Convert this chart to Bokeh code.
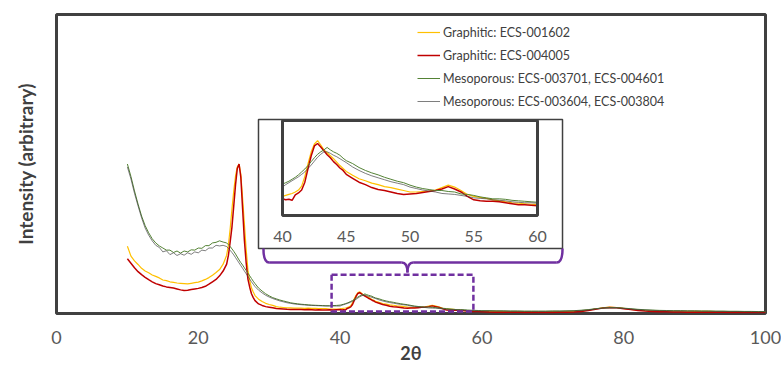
from bokeh.plotting import figure
from bokeh.models import Range1d, FixedTicker, Legend, LegendItem, BoxAnnotation
from bokeh.embed import file_html
from bokeh.resources import INLINE
from bokeh.core.properties import value
import numpy as np

# ---------------- data ----------------
two_theta = [
    10.0, 10.5, 11.0, 11.5, 12.0, 12.5, 13.0, 13.5, 14.0, 14.5, 15.0, 15.5, 16.0, 16.5,
    17.0, 17.5, 18.0, 18.5, 19.0, 19.5, 20.0, 20.5, 21.0, 21.5, 22.0, 22.5, 23.0, 23.5,
    24.0, 24.25, 24.5, 24.75, 25.0, 25.25, 25.5, 25.75, 26.0, 26.25, 26.5, 26.75, 27.0,
    27.25, 27.5, 27.75, 28.0,
    28.5, 29.0, 29.5, 30.0, 30.5, 31.0, 31.5, 32.0, 32.5, 33.0, 33.5, 34.0, 34.5, 35.0,
    35.5, 36.0, 36.5, 37.0, 37.5, 38.0, 38.5, 39.0, 39.5,
    40.0, 40.25, 40.5, 40.75, 41.0, 41.25, 41.5, 41.75, 42.0, 42.25, 42.5, 42.75, 43.0,
    43.25, 43.5, 43.75, 44.0, 44.25, 44.5, 44.75, 45.0,
    45.5, 46.0, 46.5, 47.0, 47.5, 48.0, 48.5, 49.0, 49.5, 50.0, 50.5, 51.0, 51.5, 52.0,
    52.5, 53.0, 53.5, 54.0, 54.5, 55.0, 55.5, 56.0, 56.5, 57.0, 57.5, 58.0, 58.5, 59.0,
    59.5, 60.0,
    61, 62, 63, 64, 65, 66, 67, 68, 69, 70, 71, 72, 73, 74, 75, 76, 77, 78, 79, 80,
    81, 82, 83, 84, 85, 86, 87, 88, 89, 90, 91, 92, 93, 94, 95, 96, 97, 98, 99, 100,
]

graphitic_001602 = [
    22.5, 19.2, 17.6, 16.4, 15.1, 14.2, 13.6, 12.9, 12.4, 11.9, 11.2, 11.0, 10.6, 10.4,
    10.2, 10.1, 10.0, 9.9, 10.1, 10.3, 10.5, 10.9, 11.4, 12.0, 12.8, 13.7, 14.7, 16.5,
    19.5, 23.0, 28.5, 35.0, 41.0, 46.0, 49.0, 50.0, 46.5, 38.5, 30.0, 21.5, 14.5,
    11.0, 8.6, 7.2, 6.0,
    4.8, 4.0, 3.4, 3.0, 2.7, 2.3, 2.1, 2.0, 1.9, 1.9, 1.8, 1.8, 1.8, 1.7,
    1.8, 1.7, 1.7, 1.6, 1.6, 1.6, 1.5, 1.5, 1.5,
    1.55, 1.65, 1.75, 1.85, 2.0, 2.2, 2.6, 3.6, 4.9, 6.1, 6.9, 7.25, 6.8,
    6.3, 6.0, 5.7, 5.4, 5.05, 4.7, 4.4, 4.1,
    3.7, 3.35, 3.15, 2.9, 2.75, 2.55, 2.45, 2.3, 2.15, 2.0, 2.0, 2.05, 2.1, 2.2,
    2.45, 2.7, 2.5, 2.15, 1.75, 1.55, 1.45, 1.35, 1.2, 1.1, 1.0, 0.9, 0.85, 0.8,
    0.75, 0.7,
    0.7, 0.7, 0.65, 0.65, 0.6, 0.6, 0.6, 0.55, 0.55, 0.6, 0.6, 0.65, 0.7, 0.85, 1.1, 1.5,
    1.9, 2.1, 2.0, 1.7,
    1.4, 1.2, 1.0, 0.9, 0.85, 0.8, 0.8, 0.75, 0.75, 0.7, 0.7, 0.7, 0.65, 0.65, 0.6, 0.6,
    0.6, 0.55, 0.55, 0.5,
]

graphitic_004005 = [
    18.3, 16.8, 15.3, 14.0, 13.0, 12.1, 11.3, 10.6, 10.0, 9.6, 9.2, 8.9, 8.7, 8.5,
    8.2, 7.9, 7.7, 7.8, 8.0, 8.2, 8.4, 8.7, 9.1, 9.8, 10.6, 11.4, 12.6, 14.2,
    16.5, 19.5, 24.0, 29.0, 36.0, 43.0, 48.5, 50.0, 45.5, 35.0, 24.5, 17.0, 11.5,
    8.8, 6.6, 5.3, 4.3,
    3.2, 2.7, 2.3, 2.1, 1.9, 1.7, 1.6, 1.5, 1.4, 1.35, 1.3, 1.3, 1.3, 1.25,
    1.3, 1.25, 1.2, 1.25, 1.2, 1.2, 1.25, 1.2, 1.25,
    1.3, 1.2, 1.25, 1.15, 1.7, 1.9, 2.2, 3.0, 4.4, 5.7, 6.7, 6.95, 6.6,
    6.2, 5.8, 5.5, 5.1, 4.8, 4.45, 4.2, 3.8,
    3.4, 3.0, 2.75, 2.45, 2.25, 2.15, 2.0, 1.85, 1.75, 1.8, 1.85, 1.95, 2.05, 2.15,
    2.3, 2.55, 2.3, 2.0, 1.55, 1.2, 1.1, 1.05, 1.05, 1.0, 0.9, 0.8, 0.7, 0.7,
    0.65, 0.6,
    0.5, 0.45, 0.45, 0.4, 0.4, 0.35, 0.35, 0.3, 0.35, 0.35, 0.4, 0.4, 0.5, 0.7, 1.0, 1.4,
    1.8, 2.0, 1.9, 1.6,
    1.3, 1.0, 0.8, 0.7, 0.6, 0.55, 0.5, 0.5, 0.45, 0.45, 0.4, 0.45, 0.4, 0.4, 0.35, 0.4,
    0.35, 0.35, 0.3, 0.3,
]

mesoporous_003701_004601 = [
    50.0, 45.8, 41.0, 36.6, 32.6, 29.4, 27.0, 25.0, 23.6, 22.6, 21.9, 21.2, 21.2, 20.4,
    20.9, 20.2, 20.9, 20.6, 21.3, 21.2, 21.9, 21.8, 22.7, 22.7, 23.6, 23.8, 24.3, 23.9,
    23.6, 23.0, 22.4, 21.6, 20.8, 19.9, 18.9, 17.9, 17.0, 16.2, 15.3, 14.4, 13.5,
    12.6, 11.7, 10.8, 10.0,
    8.5, 7.5, 6.6, 5.9, 5.3, 4.9, 4.5, 4.2, 3.9, 3.6, 3.4, 3.25, 3.1, 3.0,
    2.9, 2.8, 2.75, 2.7, 2.65, 2.6, 2.6, 2.65, 2.7,
    2.8, 2.95, 3.1, 3.3, 3.5, 3.75, 4.05, 4.35, 4.7, 5.1, 5.5, 5.85, 6.1,
    6.3, 6.55, 6.3, 6.1, 5.95, 5.75, 5.45, 5.2,
    4.9, 4.5, 4.2, 3.95, 3.75, 3.5, 3.3, 3.1, 2.95, 2.7, 2.5, 2.35, 2.25, 2.15,
    2.15, 2.05, 2.0, 1.8, 1.75, 1.65, 1.5, 1.4, 1.3, 1.3, 1.25, 1.15, 1.1, 1.05,
    1.0, 0.95,
    0.95, 0.9, 0.9, 0.85, 0.85, 0.8, 0.8, 0.8, 0.8, 0.85, 0.85, 0.9, 0.95, 1.1, 1.3, 1.6,
    1.85, 1.95, 1.95, 1.8,
    1.6, 1.4, 1.25, 1.15, 1.05, 1.0, 0.95, 0.95, 0.9, 0.9, 0.85, 0.85, 0.8, 0.8, 0.75, 0.75,
    0.7, 0.7, 0.65, 0.65,
]

mesoporous_003604_003804 = [
    49.0, 45.0, 40.2, 36.0, 32.0, 28.6, 26.2, 24.3, 22.8, 22.1, 20.6, 21.0, 19.7, 20.3,
    19.4, 20.0, 19.5, 20.3, 19.8, 20.6, 20.3, 21.2, 21.0, 21.9, 21.9, 22.8, 22.6, 22.8,
    22.4, 21.8, 21.1, 20.4, 19.6, 18.7, 17.8, 16.9, 16.0, 15.1, 14.2, 13.3, 12.4,
    11.5, 10.6, 9.8, 9.0,
    7.8, 6.9, 6.1, 5.5, 5.0, 4.6, 4.2, 3.9, 3.6, 3.4, 3.2, 3.05, 2.95, 2.85,
    2.75, 2.7, 2.65, 2.6, 2.55, 2.5, 2.5, 2.5, 2.5,
    2.5, 2.75, 2.95, 3.15, 3.35, 3.55, 3.8, 4.05, 4.4, 4.75, 5.15, 5.55, 5.85,
    6.1, 6.1, 5.95, 5.75, 5.6, 5.4, 5.2, 5.0,
    4.55, 4.2, 3.9, 3.65, 3.45, 3.25, 3.05, 2.9, 2.75, 2.5, 2.35, 2.2, 2.1, 2.0,
    1.85, 1.8, 1.75, 1.65, 1.55, 1.4, 1.35, 1.3, 1.2, 1.15, 1.1, 1.0, 0.95, 0.9,
    0.9, 0.85,
    0.85, 0.8, 0.8, 0.75, 0.75, 0.7, 0.7, 0.7, 0.7, 0.75, 0.75, 0.8, 0.85, 1.0, 1.2, 1.5,
    1.75, 1.85, 1.85, 1.7,
    1.5, 1.3, 1.15, 1.05, 0.95, 0.9, 0.85, 0.85, 0.8, 0.8, 0.75, 0.75, 0.7, 0.7, 0.65, 0.65,
    0.6, 0.6, 0.55, 0.55,
]

series_labels = [
    "Graphitic: ECS-001602",
    "Graphitic: ECS-004005",
    "Mesoporous: ECS-003701, ECS-004601",
    "Mesoporous: ECS-003604, ECS-003804",
]
series_values = [graphitic_001602, graphitic_004005,
                 mesoporous_003701_004601, mesoporous_003604_003804]
series_colors = ["#FFC000", "#C00000", "#548235", "#404040"]
series_widths = [1.2, 1.5, 1.0, 0.8]
series_alpha = [1.0, 1.0, 1.0, 0.85]

x_ticks = [0, 20, 40, 60, 80, 100]
inset_ticks = [40, 45, 50, 55, 60]

for s in series_values:
    assert len(s) == len(two_theta), (len(s), len(two_theta))

# ---------------- geometry of the inset (in main data units) ----------------
inset_x = (40, 60)
inset_y = (-0.4, 9.3)
inset_place = dict(left=31.88, right=67.84, bottom=32.78, top=64.55)
outer_box = dict(left=28.49, right=71.37, bottom=21.74, top=64.88)
zoom_box = dict(left=38.8, right=58.8, bottom=0.7, top=13.0)

sx = (inset_x[1] - inset_x[0]) / (inset_place["right"] - inset_place["left"])
ix0 = inset_x[0] - inset_place["left"] * sx
ix1 = ix0 + 100 * sx
sy = (inset_y[1] - inset_y[0]) / (inset_place["top"] - inset_place["bottom"])
iy0 = inset_y[0] - inset_place["bottom"] * sy
iy1 = iy0 + 100 * sy

FONT = "Lato"
PURPLE = "#7030A0"
DARK = "#404040"

p = figure(width=781, height=369, x_range=Range1d(0, 100), y_range=Range1d(0, 100),
           output_backend="svg", toolbar_location=None,
           min_border_left=56, min_border_right=16, min_border_top=14, min_border_bottom=56)
p.extra_x_ranges = {"ix": Range1d(ix0, ix1)}
p.extra_y_ranges = {"iy": Range1d(iy0, iy1)}
p.grid.visible = False
p.outline_line_color = DARK
p.outline_line_width = 3
p.background_fill_color = "white"
p.border_fill_color = "white"

xa = p.xaxis[0]
xa.ticker = FixedTicker(ticks=x_ticks)
xa.axis_line_color = None
xa.major_tick_line_color = None
xa.minor_tick_line_color = None
xa.major_tick_out = 0
xa.major_tick_in = 0
xa.major_label_standoff = 17
xa.major_label_text_font = FONT
xa.major_label_text_font_size = "18px"
xa.major_label_text_color = "#595959"
xa.axis_label = "2θ"
xa.axis_label_text_font = FONT
xa.axis_label_text_font_style = "bold"
xa.axis_label_text_font_size = "18px"
xa.axis_label_text_color = DARK
xa.axis_label_standoff = -5

ya = p.yaxis[0]
ya.ticker = FixedTicker(ticks=[])
ya.axis_line_color = None
ya.major_tick_line_color = None
ya.minor_tick_line_color = None
ya.major_tick_out = 0
ya.major_tick_in = 0
ya.major_label_standoff = 0
ya.axis_label = "Intensity (arbitrary)"
ya.axis_label_text_font = FONT
ya.axis_label_text_font_style = "bold"
ya.axis_label_text_font_size = "19px"
ya.axis_label_text_color = DARK
ya.axis_label_standoff = 20

x_arr = np.array(two_theta)
in_mask = (x_arr >= inset_x[0]) & (x_arr <= inset_x[1])

main_renderers = []
for vals, col, lw, al in zip(series_values, series_colors, series_widths, series_alpha):
    r = p.line(two_theta, vals, line_color=col, line_width=lw, line_alpha=al)
    main_renderers.append(r)

# outer inset box
p.quad(left=[outer_box["left"]], right=[outer_box["right"]],
       bottom=[outer_box["bottom"]], top=[outer_box["top"]],
       fill_color="white", line_color=DARK, line_width=1.5)

# inset curves
for vals, col, lw, al in zip(series_values, series_colors, series_widths, series_alpha):
    v = np.array(vals)
    p.line(x_arr[in_mask], v[in_mask], line_color=col, line_width=lw, line_alpha=al,
           x_range_name="ix", y_range_name="iy")

# inset frame
p.quad(left=[inset_x[0]], right=[inset_x[1]], bottom=[inset_y[0]], top=[inset_y[1]],
       fill_color=None, line_color=DARK, line_width=3,
       x_range_name="ix", y_range_name="iy")

# inset tick labels
p.text(x=inset_ticks, y=[-2.54] * len(inset_ticks), text=[str(t) for t in inset_ticks],
       x_range_name="ix", y_range_name="iy",
       text_font=value(FONT), text_font_size=value("16px"), text_color="#595959",
       text_align="center", text_baseline="middle")

# dashed zoom box
p.add_layout(BoxAnnotation(left=zoom_box["left"], right=zoom_box["right"],
                           bottom=zoom_box["bottom"], top=zoom_box["top"],
                           fill_color=None, fill_alpha=0,
                           line_color=PURPLE, line_alpha=1.0, line_width=2.5,
                           line_dash="6 3"))

# curly brace connecting zoom box and inset
bl = outer_box["left"] + 0.7
br = outer_box["right"]
by_top = outer_box["bottom"]
by = by_top - 4.7
tip_x = (zoom_box["left"] + zoom_box["right"]) / 2 + 0.7
tip_y = zoom_box["top"] + 0.7
rx = 0.8
p.quadratic(x0=[bl, tip_x - rx, tip_x, br - rx],
            y0=[by_top, by, tip_y, by],
            x1=[bl + rx, tip_x, tip_x + rx, br],
            y1=[by, tip_y, by, by_top],
            cx=[bl, tip_x, tip_x, br],
            cy=[by, by, by, by],
            line_color=PURPLE, line_width=2.5)
p.segment(x0=[bl + rx, tip_x + rx], y0=[by, by], x1=[tip_x - rx, br - rx], y1=[by, by],
          line_color=PURPLE, line_width=2.5)

legend = Legend(items=[LegendItem(label=lab, renderers=[r])
                       for lab, r in zip(series_labels, main_renderers)],
                location=(361, 202))
legend.glyph_width = 23
legend.glyph_height = 20
legend.label_height = 20
legend.spacing = 3
legend.padding = 0
legend.margin = 0
legend.label_standoff = 3
legend.label_text_font = FONT
legend.label_text_font_size = "12.5px"
legend.label_text_color = DARK
legend.background_fill_alpha = 0
legend.border_line_alpha = 0
p.add_layout(legend)

open("out.html", "w").write(file_html(p, INLINE))
